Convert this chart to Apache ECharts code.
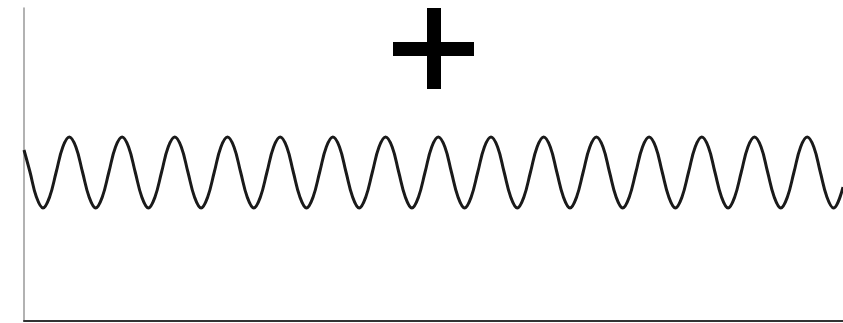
<!DOCTYPE html>
<html>
<head>
<meta charset="utf-8">
<script src="https://cdn.jsdelivr.net/npm/echarts@6/dist/echarts.min.js"></script>
<style>
  html, body { margin: 0; padding: 0; background: #fff; }
  #wave { width: 843px; height: 323px; }
</style>
</head>
<body>
<div id="wave"></div>
<script>
// 读图得到的波形采样点（横轴为时间，纵轴为信号，中线为 0）
var timeData = [
  0, 6, 12.4, 19, 25.6, 32.2, 38.8, 45.3, 51.9,
  58.5, 65.1, 71.7, 78.3, 84.9, 91.5, 98.1, 104.6,
  111.2, 117.8, 124.4, 131, 137.6, 144.2, 150.8, 157.3,
  163.9, 170.5, 177.1, 183.7, 190.3, 196.9, 203.5, 210,
  216.6, 223.2, 229.8, 236.4, 243, 249.6, 256.2, 262.8,
  269.3, 275.9, 282.5, 289.1, 295.7, 302.3, 308.9, 315.5,
  322, 328.6, 335.2, 341.8, 348.4, 355, 361.6, 368.2,
  374.7, 381.3, 387.9, 394.5, 401.1, 407.7, 414.3, 420.9,
  427.4, 434, 440.6, 447.2, 453.8, 460.4, 467, 473.6,
  480.1, 486.7, 493.3, 499.9, 506.5, 513.1, 519.7, 526.3,
  532.8, 539.4, 546, 552.6, 559.2, 565.8, 572.4, 579,
  585.5, 592.1, 598.7, 605.3, 611.9, 618.5, 625.1, 631.7,
  638.2, 644.8, 651.4, 658, 664.6, 671.2, 677.8, 684.4,
  690.9, 697.5, 704.1, 710.7, 717.3, 723.9, 730.5, 737.1,
  743.6, 750.2, 756.8, 763.4, 770, 776.6, 783.2, 789.8,
  796.3, 802.9, 809.5, 819
];
var signalData = [
  22, 0, -25, -36, -25, 0, 25, 35, 25,
  0, -25, -36, -25, 0, 25, 35, 25,
  0, -25, -36, -25, 0, 25, 35, 25,
  0, -25, -36, -25, 0, 25, 35, 25,
  0, -25, -36, -25, 0, 25, 35, 25,
  0, -25, -36, -25, 0, 25, 35, 25,
  0, -25, -36, -25, 0, 25, 35, 25,
  0, -25, -36, -25, 0, 25, 35, 25,
  0, -25, -36, -25, 0, 25, 35, 25,
  0, -25, -36, -25, 0, 25, 35, 25,
  0, -25, -36, -25, 0, 25, 35, 25,
  0, -25, -36, -25, 0, 25, 35, 25,
  0, -25, -36, -25, 0, 25, 35, 25,
  0, -25, -36, -25, 0, 25, 35, 25,
  0, -25, -36, -25, 0, 25, 35, 25,
  0, -25, -36, -15
];

var chart = echarts.init(document.getElementById('wave'));

var points = timeData.map(function (t, i) { return [t, signalData[i]]; });

var option = {
  animation: false,
  grid: { left: 24, right: 0, top: 8, bottom: 2 },
  xAxis: {
    type: 'value',
    min: 0,
    max: 819,
    axisLine: { show: true, onZero: false, lineStyle: { color: '#333', width: 2 } },
    axisTick: { show: false },
    axisLabel: { show: false },
    splitLine: { show: false }
  },
  yAxis: {
    type: 'value',
    min: -149,
    max: 164,
    axisLine: { show: true, onZero: false, lineStyle: { color: '#999', width: 1.5 } },
    axisTick: { show: false },
    axisLabel: { show: false },
    splitLine: { show: false }
  },
  graphic: [
    { type: 'rect', shape: { x: 427, y: 8, width: 14, height: 81 }, style: { fill: '#000' } },
    { type: 'rect', shape: { x: 393, y: 42, width: 81, height: 14 }, style: { fill: '#000' } }
  ],
  series: [{
    type: 'line',
    data: points,
    smooth: 0.4,
    showSymbol: false,
    lineStyle: { color: '#1a1a1a', width: 3 }
  }]
};

chart.setOption(option);
</script>
</body>
</html>
